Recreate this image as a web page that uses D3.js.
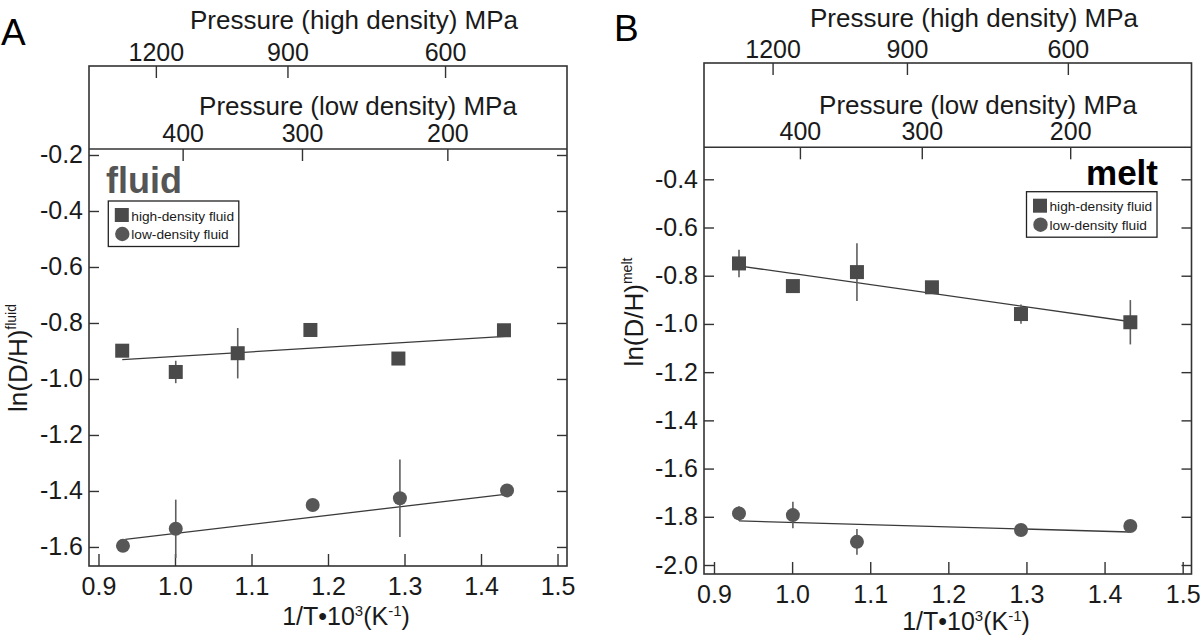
<!DOCTYPE html>
<html><head><meta charset="utf-8">
<script src="https://cdn.jsdelivr.net/npm/d3@7"></script>
<style>
body{margin:0;background:#fff}
svg{display:block}
text{font-family:'Liberation Sans',Arial,Helvetica,sans-serif;}
</style>
</head><body>
<svg id="c" width="1200" height="639"></svg>
<script>
// ---------- data ----------
const xTicks = [0.9, 1.0, 1.1, 1.2, 1.3, 1.4, 1.5];
const fluidYTicks = [-0.2, -0.4, -0.6, -0.8, -1.0, -1.2, -1.4, -1.6];
const meltYTicks = [-0.4, -0.6, -0.8, -1.0, -1.2, -1.4, -1.6, -1.8, -2.0];
const highPressureLabels = [1200, 900, 600];
const highPressureAt = [0.975, 1.147, 1.353];
const lowPressureLabels = [400, 300, 200];
const lowPressureAt = [1.010, 1.166, 1.356];

const fluidHighX = [0.931, 1.001, 1.082, 1.177, 1.292, 1.430];
const fluidHighY = [-0.899, -0.975, -0.908, -0.825, -0.927, -0.826];
const fluidHighErr = [0, 0.04, 0.09, 0, 0, 0];
const fluidHighFit = [[0.931, -0.931], [1.432, -0.848]];

const fluidLowX = [0.932, 1.001, 1.180, 1.294, 1.434];
const fluidLowY = [-1.596, -1.535, -1.450, -1.426, -1.398];
const fluidLowErr = [0, 0.104, 0, 0.138, 0];
const fluidLowFit = [[0.935, -1.573], [1.434, -1.411]];

const meltHighX = [0.932, 1.001, 1.083, 1.179, 1.293, 1.433];
const meltHighY = [-0.749, -0.843, -0.785, -0.848, -0.959, -0.993];
const meltHighErr = [0.057, 0, 0.12, 0, 0.04, 0.092];
const meltHighFit = [[0.929, -0.758], [1.434, -0.991]];

const meltLowX = [0.932, 1.001, 1.083, 1.293, 1.433];
const meltLowY = [-1.786, -1.793, -1.904, -1.855, -1.838];
const meltLowErr = [0.03, 0.055, 0.053, 0, 0];
const meltLowFit = [[0.932, -1.817], [1.432, -1.863]];

const legendLabels = ["high-density fluid", "low-density fluid"];

// ---------- drawing ----------
const AXIS = "#333";
const SQ = "#4a4a4a";
const CI = "#575757";
const svg = d3.select("#c");
svg.append("rect").attr("width", 1200).attr("height", 639).attr("fill", "#fff");

function drawPanel(p) {
  const x = d3.scaleLinear().domain(p.xDomain).range([p.left, p.right]);
  const y = d3.scaleLinear().domain(p.yDomain).range([p.top, p.bottom]);
  const g = svg.append("g");

  g.append("rect").attr("x", p.left).attr("y", p.boxTop)
    .attr("width", p.right - p.left).attr("height", p.bottom - p.boxTop)
    .attr("fill", "none").attr("stroke", AXIS).attr("stroke-width", 1.6);
  g.append("line").attr("x1", p.left).attr("x2", p.right).attr("y1", p.top).attr("y2", p.top)
    .attr("stroke", AXIS).attr("stroke-width", 1.6);

  const ax = (gen, tx, ty) => {
    const a = g.append("g").attr("transform", `translate(${tx},${ty})`).call(gen);
    a.select(".domain").remove();
    a.selectAll(".tick line").attr("stroke", AXIS).attr("stroke-width", 1.4);
    a.selectAll("text").attr("font-size", 25).attr("fill", "#1a1a1a")
      .style("font-family", "'Liberation Sans',Arial,Helvetica,sans-serif");
    return a;
  };
  ax(d3.axisLeft(y).tickValues(p.yTicks).tickSize(-10).tickPadding(6).tickFormat(d => d.toFixed(1)), p.left, 0);
  ax(d3.axisRight(y).tickValues(p.yTicks).tickSize(-10).tickFormat(() => ""), p.right, 0);
  ax(d3.axisBottom(x).tickValues(xTicks).tickSize(-12).tickPadding(11).tickFormat(d => d.toFixed(1)), 0, p.bottom);
  ax(d3.axisTop(x).tickValues(lowPressureAt).tickSize(-12).tickPadding(7).tickFormat((d, i) => lowPressureLabels[i]), 0, p.top);
  ax(d3.axisTop(x).tickValues(highPressureAt).tickSize(-12).tickPadding(5).tickFormat((d, i) => highPressureLabels[i]), 0, p.boxTop);

  // titles
  g.append("text").attr("x", p.hTitleX).attr("y", p.hTitleY).attr("text-anchor", "middle")
    .attr("font-size", 26).attr("fill", "#1a1a1a").text("Pressure (high density) MPa");
  g.append("text").attr("x", p.lTitleX).attr("y", p.lTitleY).attr("text-anchor", "middle")
    .attr("font-size", 26).attr("fill", "#1a1a1a").text("Pressure (low density) MPa");
  g.append("text").attr("x", p.letterX).attr("y", p.letterY)
    .attr("font-size", 37).attr("fill", "#000").text(p.letter);

  // x label
  const xl = g.append("text").attr("x", p.xLabelX).attr("y", p.xLabelY).attr("text-anchor", "middle")
    .attr("font-size", 25).attr("fill", "#1a1a1a");
  xl.append("tspan").text("1/T\u202210");
  xl.append("tspan").attr("font-size", 15).attr("dy", -9).text("3");
  xl.append("tspan").attr("dy", 9).text("(K");
  xl.append("tspan").attr("font-size", 15).attr("dy", -9).text("-1");
  xl.append("tspan").attr("dy", 9).text(")");

  // y label
  const yl = g.append("text").attr("transform", `translate(${p.yLabelX},${p.yLabelY}) rotate(-90)`)
    .attr("text-anchor", "middle").attr("font-size", 26).attr("fill", "#1a1a1a");
  yl.append("tspan").text("ln(D/H)");
  yl.append("tspan").attr("font-size", 14).attr("dy", -11).text(p.sup);

  // fits
  [p.highFit, p.lowFit].forEach(f => {
    g.append("line").attr("x1", x(f[0][0])).attr("y1", y(f[0][1]))
      .attr("x2", x(f[1][0])).attr("y2", y(f[1][1]))
      .attr("stroke", "#3a3a3a").attr("stroke-width", 1.3);
  });
  // error bars
  const errs = (xs, ys, es) => xs.forEach((xv, i) => {
    if (es[i] > 0) g.append("line").attr("x1", x(xv)).attr("x2", x(xv))
      .attr("y1", y(ys[i] + es[i])).attr("y2", y(ys[i] - es[i]))
      .attr("stroke", "#5e5e5e").attr("stroke-width", 1.6);
  });
  errs(p.highX, p.highY, p.highErr);
  errs(p.lowX, p.lowY, p.lowErr);
  // markers
  g.selectAll(null).data(p.highX.map((v, i) => [v, p.highY[i]])).join("rect")
    .attr("x", d => x(d[0]) - 7).attr("y", d => y(d[1]) - 7)
    .attr("width", 14).attr("height", 14).attr("fill", SQ);
  g.selectAll(null).data(p.lowX.map((v, i) => [v, p.lowY[i]])).join("circle")
    .attr("cx", d => x(d[0])).attr("cy", d => y(d[1])).attr("r", 7).attr("fill", CI);

  // label fluid / melt
  g.append("text").attr("x", p.tagX).attr("y", p.tagY).attr("text-anchor", p.tagAnchor)
    .attr("font-size", p.tagSize).attr("font-weight", "bold").attr("fill", p.tagColor).text(p.tag);

  // legend
  const lg = g.append("g").attr("transform", `translate(${p.legX},${p.legY})`);
  lg.append("rect").attr("width", 130.5).attr("height", 45.5).attr("fill", "#fff")
    .attr("stroke", "#222").attr("stroke-width", 1.3);
  lg.append("rect").attr("x", 6.5).attr("y", 7).attr("width", 14).attr("height", 14).attr("fill", SQ);
  lg.append("circle").attr("cx", 14).attr("cy", 33).attr("r", 7.2).attr("fill", CI);
  lg.selectAll(null).data(legendLabels).join("text")
    .attr("x", 23).attr("y", (d, i) => 19.5 + i * 18.7)
    .attr("font-size", 13.7).attr("fill", "#1a1a1a").text(d => d);
}

drawPanel({
  letter: "A", letterX: 1, letterY: 45,
  left: 89, right: 567, boxTop: 66, top: 149, bottom: 566,
  xDomain: [0.8876, 1.5124], yDomain: [-0.1786, -1.668],
  yTicks: fluidYTicks,
  hTitleX: 354, hTitleY: 29, lTitleX: 358, lTitleY: 115,
  xLabelX: 346, xLabelY: 625, yLabelX: 27, yLabelY: 358, sup: "fluid",
  highX: fluidHighX, highY: fluidHighY, highErr: fluidHighErr, highFit: fluidHighFit,
  lowX: fluidLowX, lowY: fluidLowY, lowErr: fluidLowErr, lowFit: fluidLowFit,
  tag: "fluid", tagX: 106, tagY: 193, tagAnchor: "start", tagSize: 36, tagColor: "#555",
  legX: 108.3, legY: 201
});

drawPanel({
  letter: "B", letterX: 614, letterY: 41,
  left: 704, right: 1191.5, boxTop: 63, top: 147.3, bottom: 574,
  xDomain: [0.8872, 1.5113], yDomain: [-0.2673, -2.0373],
  yTicks: meltYTicks,
  hTitleX: 974, hTitleY: 27, lTitleX: 978, lTitleY: 114,
  xLabelX: 966, xLabelY: 630, yLabelX: 643, yLabelY: 312, sup: "melt",
  highX: meltHighX, highY: meltHighY, highErr: meltHighErr, highFit: meltHighFit,
  lowX: meltLowX, lowY: meltLowY, lowErr: meltLowErr, lowFit: meltLowFit,
  tag: "melt", tagX: 1158, tagY: 185, tagAnchor: "end", tagSize: 35, tagColor: "#000",
  legX: 1026.5, legY: 191.7
});
</script>
</body></html>
